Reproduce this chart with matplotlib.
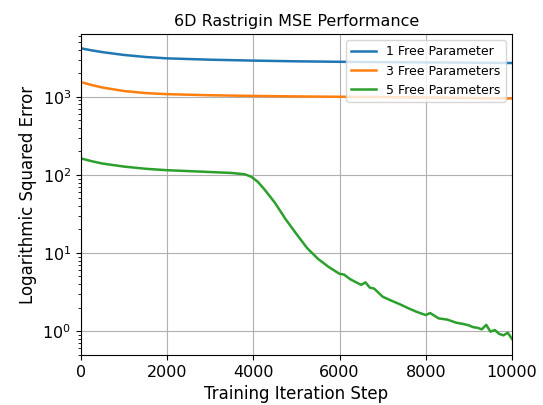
import matplotlib
matplotlib.use("Agg")
import matplotlib.pyplot as plt

# Training steps at which the MSE was sampled
steps_blue = [0, 250, 500, 1000, 1500, 2000, 3000, 4000, 5000, 6000, 7000, 8000, 9000, 10000]
mse_1_free = [4200, 3950, 3750, 3450, 3250, 3120, 3000, 2920, 2860, 2820, 2790, 2770, 2750, 2720]

steps_orange = [0, 250, 500, 1000, 1500, 2000, 3000, 4000, 5000, 6000, 7000, 8000, 9000, 10000]
mse_3_free = [1550, 1420, 1320, 1190, 1120, 1085, 1050, 1030, 1015, 1005, 995, 985, 970, 955]

steps_green = [0, 250, 500, 1000, 1500, 2000, 2500, 3000, 3500, 3800, 3950, 4100, 4250,
               4500, 4750, 5000, 5250, 5500, 5750, 6000, 6100, 6250, 6500, 6600, 6700,
               6800, 7000, 7200, 7400, 7600, 7800, 8000, 8100, 8300, 8500, 8700, 8900,
               9000, 9100, 9200, 9300, 9400, 9500, 9600, 9700, 9800, 9900, 10000]
mse_5_free = [163, 150, 140, 128, 120, 115, 112, 109, 106, 102, 95, 82, 66,
              44, 27, 17.5, 11.5, 8.4, 6.6, 5.4, 5.3, 4.6, 3.9, 4.2, 3.6,
              3.5, 2.75, 2.45, 2.2, 1.95, 1.75, 1.6, 1.7, 1.45, 1.4, 1.28, 1.22,
              1.18, 1.12, 1.1, 1.05, 1.2, 0.98, 1.03, 0.92, 0.88, 0.95, 0.79]

x_ticks = [0, 2000, 4000, 6000, 8000, 10000]

fig = plt.figure(figsize=(5.43, 4.05), dpi=100)
ax = fig.add_axes([0.149, 0.123, 0.794, 0.793])

ax.plot(steps_blue, mse_1_free, color="#1f77b4", lw=1.8, label="1 Free Parameter")
ax.plot(steps_orange, mse_3_free, color="#ff7f0e", lw=1.8, label="3 Free Parameters")
ax.plot(steps_green, mse_5_free, color="#2ca02c", lw=1.8, label="5 Free Parameters")

ax.set_yscale("log")
ax.set_xlim(0, 10000)
ax.set_ylim(0.49, 6400)
ax.set_xticks(x_ticks)
ax.grid(True, which="major", color="#b0b0b0", lw=0.8)
ax.tick_params(labelsize=11.5)

ax.set_title("6D Rastrigin MSE Performance", fontsize=11.5)
ax.set_xlabel("Training Iteration Step", fontsize=12)
ax.set_ylabel("Logarithmic Squared Error", fontsize=12)
ax.legend(loc="upper right", fontsize=9)

fig.savefig("out.png", dpi=100)
